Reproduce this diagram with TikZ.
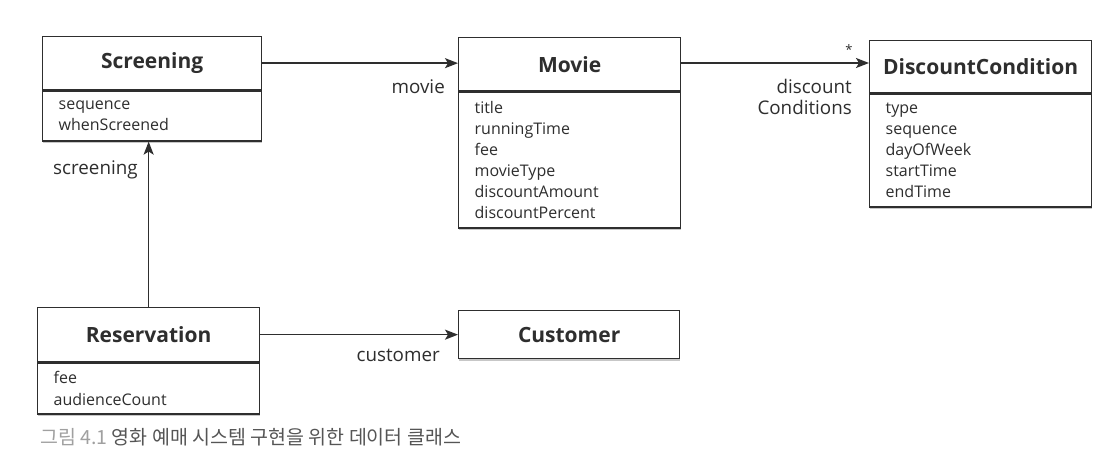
\documentclass[tikz,border=0pt]{standalone}
\usepackage{fontspec}
\setmainfont{Open Sans}
\newfontfamily\krfont{Noto Sans CJK KR}
\usetikzlibrary{arrows.meta,shadows}
\definecolor{ink}{HTML}{2E2E2E}
\definecolor{capgray}{HTML}{A0A0A0}
\definecolor{capdark}{HTML}{555555}
\begin{document}
\begin{tikzpicture}[x=1pt,y=-1pt,
 boxshadow/.style={drop shadow={shadow xshift=0.6pt,shadow yshift=-2.2pt,fill=black,opacity=0.22}},
 classtitle/.style={draw=ink,line width=1.3pt,fill=white,anchor=north west,inner sep=0pt,
   font=\fontsize{21}{24}\selectfont\bfseries,text=ink,boxshadow},
 attrs/.style={draw=ink,line width=1.3pt,fill=white,anchor=north west,inner xsep=16pt,inner ysep=0pt,
   align=left,font=\fontsize{16}{21}\selectfont,text=ink,boxshadow},
 lbl/.style={font=\fontsize{18.8}{21}\selectfont,text=ink,inner sep=0pt},
 assoc/.style={draw=ink,line width=1.6pt,-{Stealth[length=13pt,width=10pt,inset=3pt]}}]
\useasboundingbox[fill=white] (0,0) rectangle (1106,464);

% Screening
\node[classtitle,minimum width=219pt,minimum height=53pt] (scrT) at (42,36) {Screening};
\node[attrs,text width=187pt,minimum height=50pt] (scrA) at (scrT.south west) {sequence\\whenScreened};

% Movie
\node[classtitle,minimum width=222pt,minimum height=53pt] (movT) at (458,37) {Movie};
\node[attrs,text width=190pt,minimum height=136pt] (movA) at (movT.south west)
 {title\\runningTime\\fee\\movieType\\discountAmount\\discountPercent};

% DiscountCondition
\node[classtitle,minimum width=222pt,minimum height=52pt] (dcT) at (869,40) {DiscountCondition};
\node[attrs,text width=190pt,minimum height=113pt] (dcA) at (dcT.south west)
 {type\\sequence\\dayOfWeek\\startTime\\endTime};

% Reservation
\node[classtitle,minimum width=222pt,minimum height=54pt] (resT) at (37,307) {Reservation};
\node[attrs,text width=190pt,minimum height=51pt] (resA) at (resT.south west) {fee\\audienceCount};

% Customer
\node[classtitle,minimum width=221pt,minimum height=48pt] (cusT) at (458,310) {Customer};

% connectors
\draw[assoc] (scrT.east) -- (scrT.east -| movT.west);
\draw[assoc] (movT.east |- 0,63) -- (dcT.west |- 0,63);
\draw[assoc] (resT.east) -- (resT.east -| cusT.west);
\draw[assoc] (resT.north) -- (resT.north |- scrA.south);

% labels
\node[lbl,anchor=east] (lmovie) at (445,87) {movie};
\node[lbl,anchor=east,align=right] (ldisc) at (852,97) {discount\\Conditions};
\node[lbl,anchor=center,font=\fontsize{13}{14}\selectfont] (lstar) at (849,50) {*};
\node[lbl,anchor=east] (lcust) at (440,355) {customer};
\node[lbl,anchor=west] (lscr) at (53,170) {screening};

% caption
\node[anchor=west,inner sep=0pt,font=\krfont\fontsize{19.5}{22}\selectfont] (cap) at (40,437)
 {\textcolor{capgray}{그림 4.1} \textcolor{capdark}{영화 예매 시스템 구현을 위한 데이터 클래스}};
\end{tikzpicture}
\end{document}
